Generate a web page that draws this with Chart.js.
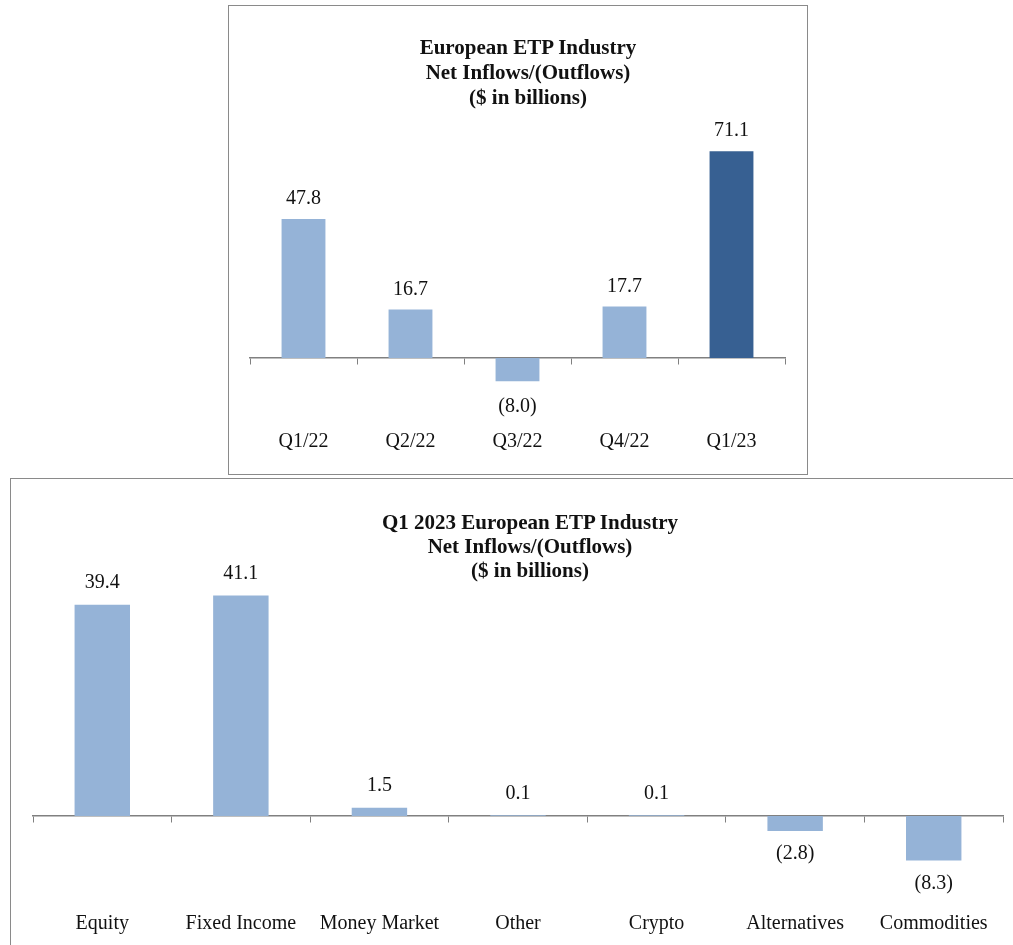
<!DOCTYPE html>
<html>
<head>
<meta charset="utf-8">
<script src="https://cdn.jsdelivr.net/npm/chart.js@4.4.0/dist/chart.umd.min.js"></script>
<style>
  body { margin: 0; background: #fff; overflow: hidden; font-family: "Liberation Serif", serif; }
  .box { position: absolute; border: 1px solid #8a8a8a; background: #fff; }
  .box canvas { position: absolute; left: 0; top: 0; }
  .ttl { position: absolute; left: 0; width: 100%; box-sizing: border-box; text-align: center;
         font: bold 21px "Liberation Serif", serif; color: #111; z-index: 2; }
</style>
</head>
<body>
<div class="box" style="left:228px;top:5px;width:578px;height:468px">
  <div class="ttl" style="top:29px;line-height:25px;padding-left:20px">European ETP Industry<br>Net Inflows/(Outflows)<br>($ in billions)</div>
  <canvas id="quarterChart" width="578" height="468"></canvas>
</div>
<div class="box" style="left:10px;top:478px;width:1010px;height:468px">
  <div class="ttl" style="top:31px;line-height:24px;padding-left:28px">Q1 2023 European ETP Industry<br>Net Inflows/(Outflows)<br>($ in billions)</div>
  <canvas id="assetChart" width="1010" height="468"></canvas>
</div>
<script>
const quarterLabels = ['Q1/22', 'Q2/22', 'Q3/22', 'Q4/22', 'Q1/23'];
const quarterFlows = [47.8, 16.7, -8.0, 17.7, 71.1];

const assetLabels = ['Equity', 'Fixed Income', 'Money Market', 'Other', 'Crypto', 'Alternatives', 'Commodities'];
const assetFlows = [39.4, 41.1, 1.5, 0.1, 0.1, -2.8, -8.3];

const LIGHT = '#95b3d7';
const DARK = '#376092';
const AXIS = '#808080';

// value labels above / below each bar, negatives in parentheses
const barValueLabels = {
  id: 'barValueLabels',
  afterDatasetsDraw(chart, args, opts) {
    const ctx = chart.ctx;
    const vals = chart.data.datasets[0].data;
    ctx.save();
    ctx.font = '20px "Liberation Serif", serif';
    ctx.fillStyle = '#111';
    ctx.textAlign = 'center';
    ctx.textBaseline = 'middle';
    chart.getDatasetMeta(0).data.forEach((bar, i) => {
      const v = vals[i];
      const txt = v < 0 ? '(' + Math.abs(v).toFixed(1) + ')' : v.toFixed(1);
      ctx.fillText(txt, bar.x, v < 0 ? bar.y + opts.below : bar.y - opts.above);
    });
    ctx.restore();
  }
};

function makeChart(id, labels, values, colorFn, g) {
  return new Chart(document.getElementById(id), {
    type: 'bar',
    data: {
      labels: labels,
      datasets: [{
        data: values,
        backgroundColor: colorFn,
        barPercentage: g.barPct,
        categoryPercentage: 1
      }]
    },
    options: {
      responsive: false,
      animation: false,
      layout: { padding: g.padding },
      plugins: {
        legend: { display: false },
        tooltip: { enabled: false },
        barValueLabels: { above: g.above, below: g.below }
      },
      scales: {
        x: {
          position: { y: 0 },
          afterFit: s => { s.height = 0; s.paddingLeft = 0; s.paddingRight = 0; },
          grid: { offset: true, drawOnChartArea: false, drawTicks: true, tickLength: 6, color: AXIS, lineWidth: 1 },
          border: { color: AXIS, width: 1.5 },
          ticks: { color: '#111', padding: g.tickPad, font: { family: '"Liberation Serif", serif', size: 20 } }
        },
        y: { display: false, min: g.min, max: g.max }
      }
    },
    plugins: [barValueLabels]
  });
}

makeChart('quarterChart', quarterLabels, quarterFlows,
  c => c.dataIndex === quarterFlows.length - 1 ? DARK : LIGHT,
  { barPct: 0.41, padding: { left: 21, right: 22, top: 110, bottom: 80 },
    tickPad: 66, min: -12.4, max: 83.2, above: 20, below: 26 });

makeChart('assetChart', assetLabels, assetFlows,
  () => LIGHT,
  { barPct: 0.40, padding: { left: 22, right: 18, top: 108, bottom: 70 },
    tickPad: 90, min: -11.4, max: 42.7, above: 22, below: 23 });
</script>
</body>
</html>
